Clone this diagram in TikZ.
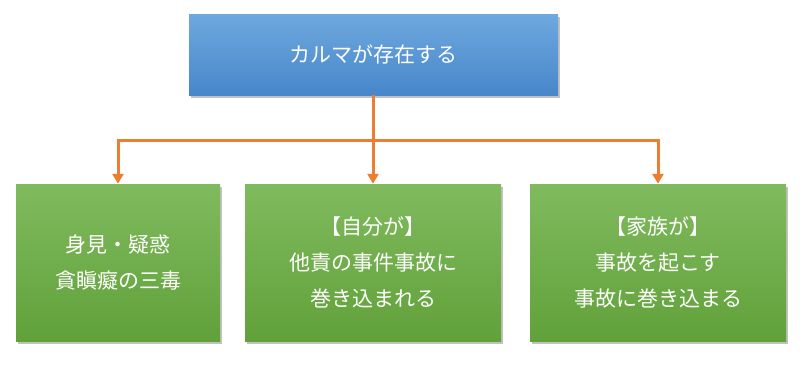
\documentclass[tikz,border=0pt]{standalone}
\usepackage{fontspec}
\setmainfont{Noto Sans CJK JP}
\usetikzlibrary{shadows,arrows.meta}
\definecolor{bluetop}{HTML}{6EA8DE}
\definecolor{bluebot}{HTML}{4787CA}
\definecolor{greentop}{HTML}{80BA5E}
\definecolor{greenbot}{HTML}{61A13A}
\definecolor{conncol}{HTML}{ED7D31}
\begin{document}
\begin{tikzpicture}[x=1pt,y=-1pt,
  boxbase/.style={inner sep=0pt, align=center, text=white,
    font=\fontsize{21pt}{36pt}\selectfont,
    drop shadow={shadow xshift=2pt, shadow yshift=-3pt, opacity=0.35, fill=black!70}},
  bluebox/.style={boxbase, top color=bluetop, bottom color=bluebot},
  greenbox/.style={boxbase, top color=greentop, bottom color=greenbot, minimum height=157pt},
  conn/.style={draw=conncol, line width=3pt, -{Triangle[width=11pt,length=10pt]}}]
\useasboundingbox (0,0) rectangle (802,364);
\node[bluebox, minimum width=369pt, minimum height=81pt] (top) at (373.5,54.5) {カルマが存在する};
\node[greenbox, minimum width=204pt] (left) at (118,262.5) {身見・疑惑\\貪瞋癡の三毒};
\node[greenbox, minimum width=256pt] (mid) at (373,262.5) {【自分が】\\他責の事件事故に\\巻き込まれる};
\node[greenbox, minimum width=256pt] (right) at (658,262.5) {【家族が】\\事故を起こす\\事故に巻き込まる};
\coordinate (j) at (373,140);
\draw[conn] (top.south -| mid.north) -- (mid.north);
\draw[conn] (j) -| (left.north);
\draw[conn] (j) -| (right.north);
\end{tikzpicture}
\end{document}
